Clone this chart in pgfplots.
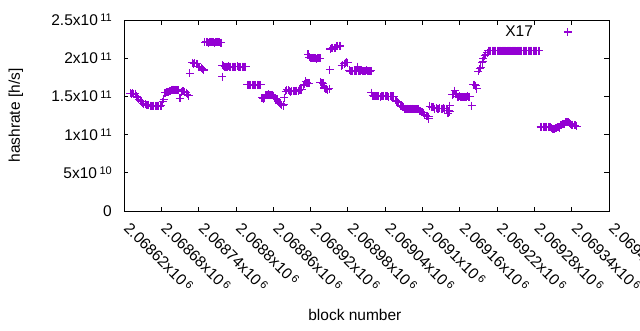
\documentclass[border=0pt]{standalone}
\usepackage{pgfplots}
\pgfplotsset{compat=1.18}
\usepackage{fontspec}
\setmainfont{Liberation Sans}
\definecolor{gpviolet}{RGB}{148,0,211}
\newcommand{\ex}[1]{\hspace{2.5pt}\raisebox{3.6pt}{\fontsize{11}{11}\selectfont #1}}
\pgfplotsset{mylegimg/.style={legend image code/.code={\path[draw=none,fill=none] (0pt,0pt) rectangle (50pt,0.1pt);\draw[##1, only marks] plot coordinates {(33pt,0pt)};}}}
\begin{document}
\begin{tikzpicture}[font=\fontsize{15.5}{18}\selectfont]
\path[use as bounding box] (-124pt,-119pt) rectangle (516pt,211pt);
\begin{axis}[
  at={(0,0)}, anchor=south west,
  scale only axis, width=485pt, height=191pt,
  xmin=620, xmax=1400, ymin=0, ymax=2.5,
  axis line style={line width=0.9pt},
  tick style={line width=0.8pt, black},
  tick align=inside, major tick length=4.5pt,
  xtick pos=both, ytick pos=both,
  xtick={620,680,...,1400},
  xticklabels={2.06862x10\ex{6},2.06868x10\ex{6},2.06874x10\ex{6},2.0688x10\ex{6},2.06886x10\ex{6},2.06892x10\ex{6},2.06898x10\ex{6},2.06904x10\ex{6},2.0691x10\ex{6},2.06916x10\ex{6},2.06922x10\ex{6},2.06928x10\ex{6},2.06934x10\ex{6},2.0694x10\ex{6}},
  xticklabel style={xshift=-1pt, yshift=-18pt, rotate=-45, anchor=base west, inner sep=0pt},
  ytick={0,0.5,1,1.5,2,2.5},
  yticklabels={0,5x10\ex{10},1x10\ex{11},1.5x10\ex{11},2x10\ex{11},2.5x10\ex{11}},
  yticklabel style={anchor=east, inner sep=0pt, xshift=-12pt},
  xlabel={block number},
  xlabel style={at={(axis description cs:0.476,0)}, anchor=base, yshift=-109.7pt, inner sep=0pt},
  ylabel={hashrate [h/s]},
  ylabel style={at={(axis description cs:-0.2227,0.5)}, anchor=center},
  legend plot pos=right,
  legend style={draw=none, fill=none, at={(0.957,0.937)}, anchor=east, font=\fontsize{15.5}{18}\selectfont},
]
\addplot[only marks, mark=+, mark size=4pt, color=gpviolet, line width=1.1pt, mylegimg] table {
x y
630 1.54
632 1.535
634 1.54
636 1.53
638 1.535
640 1.50
642 1.48
644 1.46
646 1.45
648 1.43
650 1.41
652 1.40
654 1.40
656 1.39
658 1.385
660 1.39
662 1.38
664 1.375
666 1.37
668 1.38
670 1.37
672 1.375
674 1.38
676 1.37
678 1.375
680 1.38
682 1.43
684 1.46
686 1.55
688 1.555
690 1.56
692 1.56
694 1.565
696 1.58
698 1.585
700 1.59
702 1.585
704 1.58
706 1.585
708 1.58
710 1.475
712 1.56
714 1.57
716 1.565
718 1.56
720 1.55
722 1.53
724 1.51
726 1.80
730 1.94
732 1.93
734 1.935
736 1.93
738 1.925
740 1.89
742 1.88
744 1.875
746 1.86
748 1.845
750 2.21
752 2.215
754 2.21
756 2.205
758 2.21
760 2.215
762 2.21
764 2.21
766 2.205
768 2.21
770 2.215
772 2.21
774 2.21
776 2.205
778 1.76
778 1.91
780 1.90
782 1.89
784 1.89
786 1.89
788 1.895
790 1.89
792 1.89
794 1.885
796 1.89
798 1.89
800 1.89
802 1.895
804 1.89
806 1.89
808 1.885
810 1.89
812 1.89
814 1.89
816 1.89
818 1.65
820 1.65
822 1.655
824 1.65
826 1.65
828 1.645
830 1.65
832 1.65
834 1.655
836 1.65
838 1.65
840 1.65
842 1.48
844 1.47
846 1.475
848 1.515
850 1.52
852 1.525
854 1.52
856 1.515
858 1.52
860 1.51
862 1.48
864 1.47
866 1.46
868 1.43
870 1.41
872 1.40
874 1.39
876 1.38
877 1.39
878 1.48
880 1.57
882 1.585
884 1.58
886 1.575
888 1.56
890 1.565
892 1.565
894 1.57
896 1.57
898 1.575
900 1.575
902 1.58
904 1.585
906 1.59
908 1.64
910 1.66
912 1.70
914 1.68
916 1.67
918 1.67
916 2.05
918 2.01
920 2.0
922 2.0
924 2.005
926 2.0
928 2.0
930 1.995
932 2.0
934 2.0
936 2.0
936 1.685
938 1.68
940 1.67
942 1.61
944 1.60
946 1.60
948 1.59
950 1.60
951 1.85
952 2.12
954 2.13
956 2.135
958 2.13
960 2.14
962 2.155
964 2.16
966 2.165
968 2.16
970 1.90
972 1.905
974 1.93
976 1.94
978 1.945
980 1.94
982 1.84
984 1.83
986 1.83
988 1.835
990 1.83
992 1.83
994 1.83
996 1.89
998 1.835
1000 1.835
1002 1.84
1004 1.835
1006 1.83
1008 1.835
1010 1.84
1012 1.835
1014 1.835
1016 1.83
1018 1.835
1018 1.55
1020 1.51
1022 1.50
1024 1.50
1026 1.505
1028 1.50
1030 1.50
1032 1.495
1034 1.50
1036 1.50
1038 1.505
1040 1.50
1042 1.50
1044 1.50
1046 1.495
1048 1.50
1050 1.50
1052 1.50
1054 1.50
1056 1.45
1058 1.44
1060 1.43
1062 1.42
1064 1.38
1066 1.37
1068 1.36
1070 1.355
1072 1.34
1074 1.335
1076 1.34
1078 1.335
1080 1.34
1082 1.335
1084 1.34
1086 1.335
1088 1.33
1090 1.335
1092 1.33
1094 1.33
1096 1.31
1098 1.30
1100 1.29
1102 1.285
1104 1.26
1106 1.25
1108 1.24
1110 1.235
1110 1.21
1112 1.37
1114 1.365
1116 1.36
1118 1.36
1120 1.34
1122 1.345
1124 1.34
1126 1.34
1128 1.345
1130 1.34
1132 1.34
1134 1.345
1136 1.34
1138 1.34
1140 1.32
1142 1.31
1144 1.30
1141 1.28
1144 1.38
1148 1.52
1150 1.53
1152 1.575
1154 1.53
1156 1.495
1158 1.495
1160 1.50
1162 1.495
1164 1.495
1166 1.49
1168 1.495
1170 1.495
1172 1.50
1174 1.495
1176 1.495
1179 1.38
1182 1.65
1184 1.65
1186 1.64
1187 1.60
1190 1.83
1192 1.86
1194 1.88
1196 1.94
1197 1.96
1198 2.00
1200 2.03
1202 2.05
1204 2.07
1206 2.10
1208 2.10
1210 2.10
1212 2.10
1214 2.10
1216 2.10
1218 2.10
1220 2.10
1222 2.10
1224 2.10
1226 2.10
1228 2.10
1230 2.10
1232 2.10
1234 2.10
1236 2.10
1238 2.10
1240 2.10
1242 2.10
1244 2.10
1246 2.10
1248 2.10
1250 2.10
1252 2.10
1254 2.10
1256 2.10
1258 2.10
1260 2.10
1262 2.10
1264 2.10
1266 2.10
1268 2.10
1270 2.10
1272 2.10
1274 2.10
1276 2.10
1278 2.10
1280 2.10
1282 2.10
1284 2.10
1286 2.10
1288 2.10
1290 1.10
1292 1.10
1294 1.10
1296 1.10
1298 1.10
1300 1.10
1302 1.10
1304 1.10
1306 1.10
1308 1.08
1310 1.07
1312 1.07
1314 1.08
1316 1.09
1318 1.095
1320 1.09
1322 1.12
1324 1.13
1326 1.14
1328 1.14
1330 1.16
1332 1.165
1334 1.16
1336 1.15
1338 1.14
1340 1.13
1342 1.13
1344 1.12
1346 1.12
1348 1.11
};
\addlegendentry{X17}
\end{axis}
\end{tikzpicture}
\end{document}
